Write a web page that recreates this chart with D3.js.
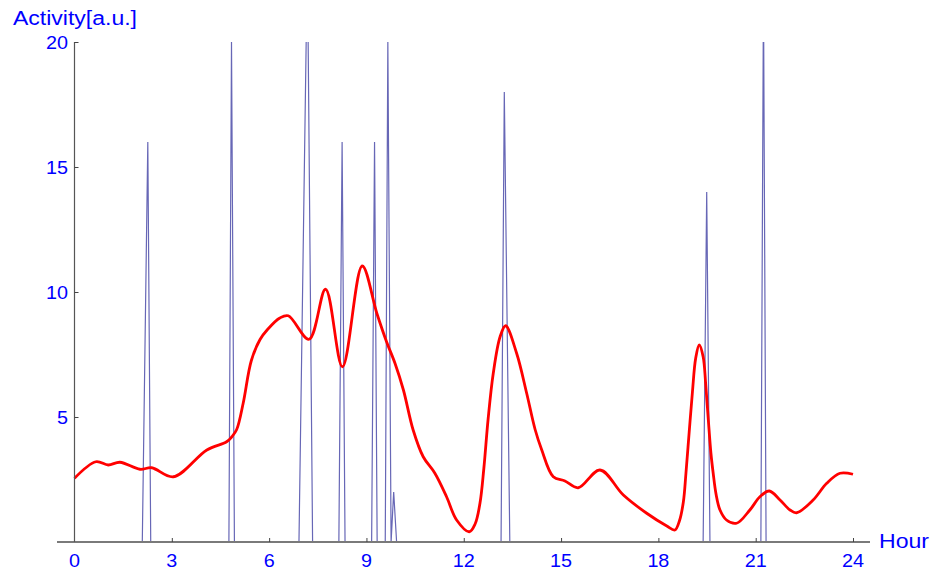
<!DOCTYPE html>
<html>
<head>
<meta charset="utf-8">
<script src="https://cdn.jsdelivr.net/npm/d3@7/dist/d3.min.js"></script>
<style>
  html, body { margin: 0; padding: 0; background: #ffffff; }
  svg { display: block; }
  text { font-family: "Liberation Sans", Arial, sans-serif; fill: #0000ff; }
</style>
</head>
<body>
<svg id="chart" width="934" height="575"></svg>
<script>
// Activity bursts: each burst rises from zero to its height and falls back
const burstStart  = [2.09, 4.76, 6.92, 8.15, 9.16, 9.58, 9.76, 13.15, 19.38, 21.16];
const burstPeak   = [2.26, 4.84, 7.18, 8.25, 9.25, 9.66, 9.84, 13.25, 19.49, 21.24];
const burstEnd    = [2.35, 4.93, 7.34, 8.34, 9.33, 9.76, 9.93, 13.42, 19.59, 21.32];
const burstHeight = [16, 20, 23.4, 16, 16, 20, 2, 18, 14, 22];

// Smoothed activity trend
const trendHours  = [0.00, 0.66, 1.04, 1.40, 2.02, 2.38, 3.05, 4.08, 4.69, 4.85, 5.00, 5.20, 5.45, 5.72, 5.95,
                     6.33, 6.59, 7.23, 7.74, 8.26, 8.87, 9.32, 9.62, 9.88, 10.14, 10.44, 10.75, 11.11, 11.47,
                     11.78, 12.17, 12.35, 12.50, 12.62, 12.75, 12.91, 13.12, 13.29, 13.63, 13.94, 14.20, 14.40,
                     14.76, 15.12, 15.53, 16.20, 16.92, 17.64, 18.26, 18.51, 18.65, 18.77, 18.85, 18.95, 19.05,
                     19.15, 19.26, 19.38, 19.46, 19.54, 19.62, 19.69, 19.78, 19.90, 20.10, 20.41, 20.82, 21.13,
                     21.42, 21.75, 22.06, 22.26, 22.77, 23.19, 23.60, 24.00];
const trendValues = [2.55, 3.21, 3.08, 3.19, 2.91, 2.97, 2.61, 3.68, 4.01, 4.21, 4.50, 5.55, 7.25, 8.10, 8.50,
                     8.96, 9.05, 8.11, 10.11, 7.01, 11.04, 9.15, 8.01, 7.15, 6.08, 4.48, 3.41, 2.75, 1.81,
                     0.88, 0.41, 0.72, 1.55, 2.95, 4.90, 6.75, 8.21, 8.65, 7.55, 5.95, 4.50, 3.70,
                     2.61, 2.44, 2.17, 2.88, 1.88, 1.15, 0.64, 0.48, 0.85, 1.60, 2.75, 4.40, 6.00,
                     7.35, 7.88, 7.41, 6.30, 4.88, 3.55, 2.75, 1.90, 1.28, 0.88, 0.75, 1.28, 1.81,
                     2.04, 1.68, 1.28, 1.17, 1.68, 2.35, 2.75, 2.71];

const xTicks = [3, 6, 9, 12, 15, 18, 21, 24];
const xTickLabels = [0, 3, 6, 9, 12, 15, 18, 21, 24];
const yTicks = [5, 10, 15, 20];

const svg = d3.select("#chart");
const x = d3.scaleLinear().domain([0, 24]).range([74.5, 853]);
const y = d3.scaleLinear().domain([0, 20]).range([542, 42]);

svg.append("defs").append("clipPath").attr("id", "plotClip")
  .append("rect").attr("x", 60).attr("y", y(20)).attr("width", 820).attr("height", y(0) - y(20) + 2);

// Build the burst polyline from the arrays
const burstPoints = [[0, 0]];
burstStart.forEach((s, i) => {
  burstPoints.push([s, 0], [burstPeak[i], burstHeight[i]], [burstEnd[i], 0]);
});
burstPoints.push([24, 0]);

const plot = svg.append("g").attr("clip-path", "url(#plotClip)");

plot.append("path")
  .datum(burstPoints)
  .attr("fill", "none")
  .attr("stroke", "#6767b6")
  .attr("stroke-width", 1.2)
  .attr("stroke-linejoin", "miter")
  .attr("d", d3.line().x(d => x(d[0])).y(d => y(d[1])));

plot.append("path")
  .datum(trendHours.map((h, i) => [h, trendValues[i]]))
  .attr("fill", "none")
  .attr("stroke", "#ff0000")
  .attr("stroke-width", 2.8)
  .attr("stroke-linejoin", "round")
  .attr("d", d3.line().curve(d3.curveCatmullRom.alpha(0.5)).x(d => x(d[0])).y(d => y(d[1])));

// Axes
svg.append("line")
  .attr("x1", 57).attr("x2", 870).attr("y1", y(0)).attr("y2", y(0))
  .attr("stroke", "#7a7a7a").attr("stroke-width", 1.8);
svg.append("line")
  .attr("x1", x(0)).attr("x2", x(0)).attr("y1", y(20)).attr("y2", y(0))
  .attr("stroke", "#555555").attr("stroke-width", 1.2);

const xAxis = d3.axisBottom(x).tickValues(xTicks).tickSizeInner(-4).tickSizeOuter(0).tickFormat("");
const gx = svg.append("g").attr("transform", `translate(0,${y(0)})`).call(xAxis);
gx.select(".domain").remove();
gx.selectAll(".tick line").attr("stroke", "#444").attr("stroke-width", 1);

const yAxis = d3.axisLeft(y).tickValues(yTicks).tickSizeInner(-4).tickSizeOuter(0).tickFormat("");
const gy = svg.append("g").attr("transform", `translate(${x(0)},0)`).call(yAxis);
gy.select(".domain").remove();
gy.selectAll(".tick line").attr("stroke", "#444").attr("stroke-width", 1);

// Tick labels
svg.append("g").selectAll("text").data(xTickLabels).join("text")
  .attr("x", d => x(d)).attr("y", y(0) + 25)
  .attr("text-anchor", "middle")
  .attr("font-size", 19)
  .attr("textLength", d => String(d).length * 11)
  .attr("lengthAdjust", "spacingAndGlyphs")
  .text(d => d);

svg.append("g").selectAll("text").data(yTicks).join("text")
  .attr("x", 68).attr("y", d => y(d) + 6.5)
  .attr("text-anchor", "end")
  .attr("font-size", 18)
  .attr("textLength", d => String(d).length * 11)
  .attr("lengthAdjust", "spacingAndGlyphs")
  .text(d => d);

// Axis titles
svg.append("text")
  .attr("x", 13).attr("y", 25)
  .attr("font-size", 20)
  .attr("textLength", 124).attr("lengthAdjust", "spacingAndGlyphs")
  .text("Activity[a.u.]");

svg.append("text")
  .attr("x", 879).attr("y", 548)
  .attr("font-size", 20)
  .attr("textLength", 50).attr("lengthAdjust", "spacingAndGlyphs")
  .text("Hour");
</script>
</body>
</html>
